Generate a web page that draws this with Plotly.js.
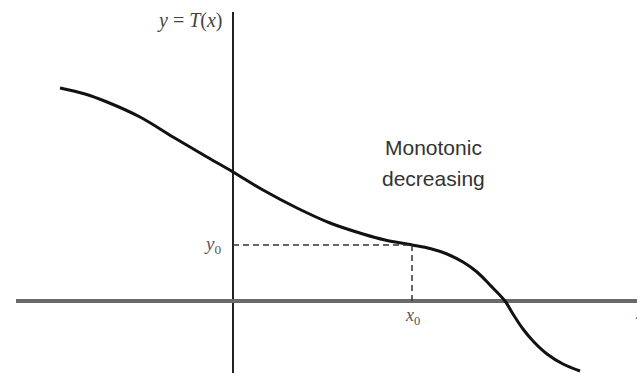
<!DOCTYPE html>
<html>
<head>
<meta charset="utf-8">
<script src="https://cdn.plot.ly/plotly-3.0.1.min.js"></script>
<style>
  html, body { margin: 0; padding: 0; background: #fff; }
  #chart { width: 637px; height: 373px; }
</style>
</head>
<body>
<div id="chart"></div>
<script>
// Sample points of the monotonic decreasing function y = T(x)
const curveX = [-1.73, -1.48, -1.26, -0.93, -0.60, -0.26, 0.00, 0.30, 0.64, 0.97, 1.30, 1.52, 1.79, 1.97, 2.14, 2.30, 2.44, 2.57, 2.72, 2.80, 2.90, 3.00, 3.14, 3.30, 3.47];
const curveY = [ 2.13,  2.07,  1.99,  1.84,  1.64,  1.44, 1.29, 1.11, 0.93, 0.78, 0.67, 0.61, 0.56, 0.525, 0.47, 0.39, 0.29, 0.16, 0.00, -0.13, -0.28, -0.40, -0.53, -0.63, -0.70];

// Marked point (x0, y0) on the curve
const x0 = 1.79;
const y0 = 0.56;

const serif = "Liberation Serif, Times New Roman, serif";
const sans = "Liberation Sans, Arial, sans-serif";

const traces = [
  {
    x: curveX, y: curveY,
    mode: "lines",
    line: { color: "#111", width: 3, shape: "spline", smoothing: 1 },
    hoverinfo: "skip"
  },
  {
    // horizontal guide from the y axis to the point
    x: [0, x0], y: [y0, y0],
    mode: "lines",
    line: { color: "#333", width: 1.5, dash: "6px,4px" },
    hoverinfo: "skip"
  },
  {
    // vertical guide from the point down to the x axis
    x: [x0, x0], y: [y0, 0],
    mode: "lines",
    line: { color: "#333", width: 1.5, dash: "6px,4px" },
    hoverinfo: "skip"
  }
];

const layout = {
  width: 637, height: 373,
  margin: { l: 16, r: 0, t: 12, b: 0 },
  paper_bgcolor: "#fff",
  plot_bgcolor: "#fff",
  showlegend: false,
  xaxis: {
    range: [-2.17, 4.04],
    showgrid: false, showticklabels: false, ticks: "",
    // vertical line through x = 0 serves as the y axis
    zeroline: true, zerolinecolor: "#222", zerolinewidth: 2,
    fixedrange: true
  },
  yaxis: {
    range: [-0.72, 2.89],
    showgrid: false, showticklabels: false, ticks: "",
    // horizontal line through y = 0 serves as the x axis
    zeroline: true, zerolinecolor: "#6a6a6a", zerolinewidth: 3.5,
    fixedrange: true
  },
  annotations: [
    { x: -0.43, y: 2.81, text: "<i>y</i> = <i>T</i>(<i>x</i>)", showarrow: false,
      xanchor: "center", yanchor: "middle", font: { family: serif, size: 20, color: "#444" } },
    { x: -0.10, y: y0, text: "<i>y</i><sub>0</sub>", showarrow: false,
      xanchor: "right", yanchor: "middle", font: { family: serif, size: 19, color: "#555" } },
    { x: x0, y: -0.15, text: "<i>x</i><sub>0</sub>", showarrow: false,
      xanchor: "center", yanchor: "middle", font: { family: serif, size: 18, color: "#555" } },
    { x: 2.00, y: 1.54, text: "Monotonic", showarrow: false,
      xanchor: "center", yanchor: "middle", font: { family: sans, size: 21, color: "#333" } },
    { x: 2.00, y: 1.23, text: "decreasing", showarrow: false,
      xanchor: "center", yanchor: "middle", font: { family: sans, size: 21, color: "#333" } },
    { x: 4.00, y: -0.12, text: "<i>x</i>", showarrow: false,
      xanchor: "left", yanchor: "middle", font: { family: serif, size: 18, color: "#555" } }
  ]
};

Plotly.newPlot("chart", traces, layout, { displayModeBar: false, staticPlot: true });
</script>
</body>
</html>
